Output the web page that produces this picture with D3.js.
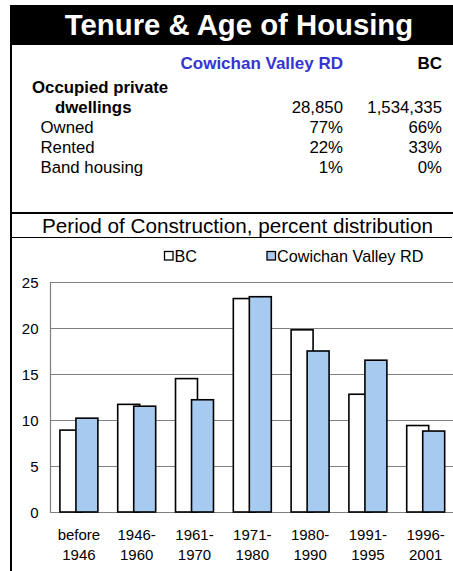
<!DOCTYPE html>
<html><head><meta charset="utf-8">
<script src="https://cdn.jsdelivr.net/npm/d3@7"></script>
<style>body{margin:0;background:#fff}svg{display:block;font-family:"Liberation Sans",Arial,sans-serif}</style>
</head><body>
<svg id="c" width="453" height="571"></svg>
<script>
const title = "Tenure & Age of Housing";
const regionName = "Cowichan Valley RD";
const tableRows = ["Owned", "Rented", "Band housing"];
const dwellingsRegion = "28,850", dwellingsBC = "1,534,335";
const tableRegion = ["77%", "22%", "1%"];
const tableBC = ["66%", "33%", "0%"];
const chartTitle = "Period of Construction, percent distribution";
const categories = [["before","1946"],["1946-","1960"],["1961-","1970"],["1971-","1980"],["1980-","1990"],["1991-","1995"],["1996-","2001"]];
const seriesNames = ["BC", "Cowichan Valley RD"];
const bcValues = [8.9, 11.7, 14.5, 23.2, 19.8, 12.8, 9.4];
const cvValues = [10.2, 11.5, 12.2, 23.4, 17.5, 16.5, 8.8];
const yTicks = [0, 5, 10, 15, 20, 25];

(function(){
const svg = d3.select("#c");
// frame
svg.append("rect").attr("x",10).attr("y",5).attr("width",443).attr("height",40).attr("fill","#000");
svg.append("line").attr("x1",11).attr("x2",11).attr("y1",5).attr("y2",571).attr("stroke","#000").attr("stroke-width",2);
svg.append("line").attr("x1",10).attr("x2",453).attr("y1",213).attr("y2",213).attr("stroke","#000").attr("stroke-width",2);
svg.append("line").attr("x1",10).attr("x2",452).attr("y1",237.5).attr("y2",237.5).attr("stroke","#000").attr("stroke-width",1.2);
svg.append("text").attr("x",239).attr("y",35).attr("text-anchor","middle").attr("fill","#fff")
  .attr("font-weight","bold").attr("font-size",29.3).text(title);

// table
const colR = 343, colB = 442, fs = 16.8;
svg.append("text").attr("x",colR).attr("y",69).attr("text-anchor","end").attr("fill","#3535d2")
  .attr("font-weight","bold").attr("font-size",17).text(regionName);
svg.append("text").attr("x",colB).attr("y",69).attr("text-anchor","end").attr("fill","#000")
  .attr("font-weight","bold").attr("font-size",17).text("BC");
svg.append("text").attr("x",32).attr("y",93).attr("font-weight","bold").attr("font-size",fs).text("Occupied private");
svg.append("text").attr("x",55).attr("y",113).attr("font-weight","bold").attr("font-size",fs).text("dwellings");
svg.append("text").attr("x",colR).attr("y",113).attr("text-anchor","end").attr("font-size",fs).text(dwellingsRegion);
svg.append("text").attr("x",colB).attr("y",113).attr("text-anchor","end").attr("font-size",fs).text(dwellingsBC);
tableRows.forEach((r,i)=>{
  const yy = 133 + i*20;
  svg.append("text").attr("x",40.5).attr("y",yy).attr("font-size",fs).text(r);
  svg.append("text").attr("x",colR).attr("y",yy).attr("text-anchor","end").attr("font-size",fs).text(tableRegion[i]);
  svg.append("text").attr("x",colB).attr("y",yy).attr("text-anchor","end").attr("font-size",fs).text(tableBC[i]);
});

// chart title
svg.append("text").attr("x",237.5).attr("y",233).attr("text-anchor","middle").attr("font-size",20.7).text(chartTitle);

// legend
const legend = [{n:seriesNames[0], fill:"#fff", x:164.5}, {n:seriesNames[1], fill:"#a6caf0", x:267}];
legend.forEach(l=>{
  svg.append("rect").attr("x",l.x).attr("y",251.5).attr("width",8.5).attr("height",8.5).attr("fill",l.fill).attr("stroke","#000").attr("stroke-width",1.3);
  svg.append("text").attr("x",l.x+10).attr("y",261.5).attr("font-size",16.2).text(l.n);
});

// chart
const pl = 50, pt = 282, pb = 512, pr = 454.6;
const y = d3.scaleLinear().domain([0,25]).range([pb, pt]);
const x = d3.scaleBand().domain(d3.range(categories.length)).range([pl, pr]).paddingInner(0).paddingOuter(0);
const g = svg.append("g");
g.selectAll("line.grid").data(yTicks).join("line").attr("class","grid")
  .attr("x1",pl).attr("x2",pr).attr("y1",d=>Math.round(y(d))+0.5).attr("y2",d=>Math.round(y(d))+0.5)
  .attr("stroke","#808080").attr("stroke-width",1.2);
g.append("line").attr("x1",pl+0.5).attr("x2",pl+0.5).attr("y1",pt).attr("y2",pb).attr("stroke","#808080").attr("stroke-width",1.2);
g.selectAll("text.yt").data(yTicks).join("text").attr("class","yt")
  .attr("x",38.5).attr("y",d=>y(d)+5.5).attr("text-anchor","end").attr("font-size",15).text(d=>d);

const bw = x.bandwidth();
const barW = bw*0.38, step = bw*0.277, off = (bw - (step+barW))/2;
g.selectAll("rect.bc").data(bcValues).join("rect").attr("class","bc")
  .attr("x",(d,i)=>x(i)+off).attr("width",barW).attr("y",d=>y(d)).attr("height",d=>y(0)-y(d))
  .attr("fill","#fff").attr("stroke","#000").attr("stroke-width",1.6);
g.selectAll("rect.cv").data(cvValues).join("rect").attr("class","cv")
  .attr("x",(d,i)=>x(i)+off+step).attr("width",barW).attr("y",d=>y(d)).attr("height",d=>y(0)-y(d))
  .attr("fill","#a6caf0").attr("stroke","#000").attr("stroke-width",1.6);

const xl = g.selectAll("text.xl").data(categories).join("text").attr("class","xl")
  .attr("text-anchor","middle").attr("font-size",15);
xl.append("tspan").attr("x",(d,i)=>x(i)+bw/2).attr("y",540).text(d=>d[0]);
xl.append("tspan").attr("x",(d,i)=>x(i)+bw/2).attr("y",560).text(d=>d[1]);
})();
</script>
</body></html>
